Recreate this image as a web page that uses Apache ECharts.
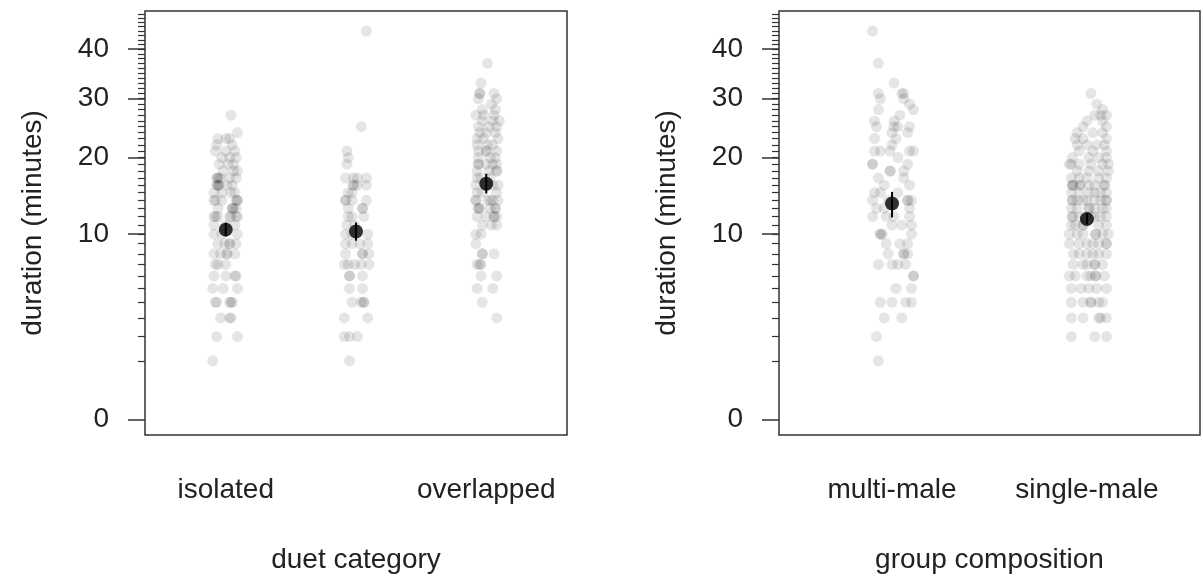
<!DOCTYPE html>
<html>
<head>
<meta charset="utf-8">
<script src="https://cdn.jsdelivr.net/npm/echarts@6/dist/echarts.min.js"></script>
<style>
  html, body { margin: 0; padding: 0; background: #fff; }
  #chart { width: 1203px; height: 579px; }
</style>
</head>
<body>
<div id="chart"></div>
<script>
// durations in minutes; each row is [minutes, jitter offsets from the category centre...]
const isolated = [
  [27, 0.04], [24, 0.09], [23, -0.06, 0.0, 0.03], [22, -0.07, 0.05],
  [21, -0.08, 0.0, 0.07], [20, -0.03, 0.03, 0.08], [19, -0.05, 0.02, 0.06],
  [18, -0.02, 0.06, 0.09], [17, -0.07, -0.06, -0.04, 0.03, 0.08, -0.06],
  [16, -0.07, -0.06, -0.05, 0.01, 0.05, -0.06], [15, -0.09, -0.03, 0.04, 0.07],
  [14, -0.09, -0.08, -0.03, 0.08, 0.09, 0.09], [13, -0.06, 0.05, 0.05, 0.08, 0.06],
  [12, -0.09, -0.08, -0.06, 0.03, 0.04, 0.08, 0.09], [11, -0.09, 0.0, 0.07],
  [10, -0.09, -0.03, 0.09], [9, -0.06, -0.01, 0.03, 0.03, 0.08],
  [8, -0.09, -0.04, 0.01, 0.01, 0.07], [7, -0.08, -0.06, 0.0],
  [6, -0.09, 0.0, 0.07, 0.08], [5, -0.1, -0.02, 0.09],
  [4, -0.08, -0.07, 0.03, 0.04, 0.05], [3, -0.04, 0.03, 0.04],
  [2, -0.07, 0.09], [1, -0.1]
];
const unlabelled = [
  [44, 0.08], [25, 0.04], [21, -0.07], [20, -0.06], [19, -0.07],
  [17, -0.08, -0.02, 0.01, 0.08], [16, -0.02, -0.02, 0.01, 0.08], [15, -0.06, -0.03],
  [14, -0.08, -0.08, -0.03, 0.08], [13, -0.06, 0.05, 0.05], [12, -0.06, -0.03, 0.06],
  [11, -0.07, -0.01], [10, -0.08, -0.03, 0.09], [9, -0.08, -0.03, 0.03, 0.09],
  [8, -0.08, 0.05, 0.05, 0.1], [7, -0.09, -0.06, -0.01, 0.04, 0.1],
  [6, -0.05, -0.05, 0.05], [5, -0.05, 0.05], [4, -0.03, 0.04, 0.06, 0.06],
  [3, -0.09, 0.09], [2, -0.09, -0.05, 0.01], [1, -0.05]
];
const overlapped = [
  [37, 0.01], [33, -0.04], [31, -0.05, -0.05, 0.06], [30, -0.06, 0.08], [29, 0.04],
  [28, -0.03, 0.07], [27, -0.08, -0.02, 0.06], [26, -0.03, 0.05, 0.1], [25, -0.06, 0.02, 0.08],
  [24, -0.05, 0.07, 0.0], [23, -0.02, 0.09, -0.07], [22, -0.07, 0.05, 0.01], [21, 0.0, 0.0, 0.08, -0.06],
  [20, -0.06, 0.03, 0.07], [19, -0.06, -0.06, 0.0, 0.05, 0.08], [18, -0.07, 0.02, 0.08, 0.08],
  [17, -0.04, 0.03, -0.07], [16, -0.08, 0.0, 0.09, 0.05], [15, -0.03, 0.08, -0.07],
  [14, -0.08, -0.08, 0.01, 0.05, 0.09, 0.03], [13, -0.06, -0.06, -0.05, 0.03, 0.07, 0.07],
  [12, -0.07, 0.0, 0.06, 0.06, 0.08], [11, -0.03, 0.04, 0.08], [10, -0.08, -0.04],
  [9, -0.08], [8, -0.03, -0.03, 0.06], [7, -0.07, -0.05, -0.04], [6, -0.04, 0.08],
  [5, -0.07, 0.05], [4, -0.03], [3, 0.08]
];
const multiMale = [
  [44, -0.1], [37, -0.07], [33, 0.01], [31, -0.07, 0.05, 0.06], [30, -0.06, 0.06],
  [29, 0.09], [28, -0.07, 0.11], [27, 0.04], [26, -0.09, 0.01], [25, -0.08, 0.01, 0.03, 0.09],
  [24, 0.0, 0.08], [23, -0.09, 0.02], [22, 0.0], [21, -0.09, -0.06, -0.01, 0.09, 0.11],
  [20, 0.03], [19, -0.1, -0.1, 0.08], [18, -0.01, -0.01, 0.06], [17, -0.07, 0.06],
  [16, -0.04, 0.09], [15, -0.09, -0.06, 0.03], [14, -0.1, -0.02, 0.08, 0.08, 0.1],
  [13, -0.08, -0.04, 0.09], [12, -0.1, -0.03, 0.01, 0.09], [11, 0.0, 0.05, 0.1],
  [10, -0.06, -0.06, -0.05, 0.1], [9, -0.03, 0.04, 0.08], [8, -0.02, 0.06, 0.06, 0.08],
  [7, -0.07, 0.0, 0.03, 0.07], [6, 0.11, 0.11], [5, 0.02, 0.1], [4, -0.06, 0.0, 0.07, 0.1],
  [3, -0.04, 0.05], [2, -0.08], [1, -0.07]
];
const singleMale = [
  [31, 0.02], [29, 0.05], [28, 0.08], [27, 0.04, 0.07, 0.1], [26, 0.0, 0.08], [25, 0.1, -0.02],
  [24, -0.05, 0.03, 0.08], [23, -0.02, 0.1, -0.06], [22, -0.05, 0.05, 0.09, 0.0], [21, -0.04, 0.1, 0.03],
  [20, -0.075, 0.01, 0.06, 0.1], [19, -0.09, -0.04, 0.08, 0.11, 0.02, -0.08], [18, 0.01, 0.11, -0.05, 0.06],
  [17, -0.08, 0.0, 0.06, -0.04, 0.1],
  [16, -0.075, -0.075, -0.035, -0.035, 0.04, 0.09, 0.09, -0.07, 0.01],
  [15, -0.08, 0.01, 0.07, -0.04, 0.1, 0.04],
  [14, -0.075, -0.075, -0.02, 0.04, 0.1, 0.1, -0.05, 0.07, 0.0],
  [13, -0.05, 0.01, 0.01, 0.08, -0.08, 0.1, 0.04],
  [12, -0.075, -0.075, -0.01, 0.04, 0.1, -0.04, 0.07, 0.02],
  [11, -0.08, -0.02, -0.02, 0.06, 0.1, -0.06],
  [10, -0.09, -0.02, 0.045, 0.045, 0.11, -0.05, 0.08],
  [9, -0.09, -0.04, 0.03, 0.1, 0.1, 0.0, 0.06],
  [8, -0.07, 0.0, 0.03, 0.1, -0.04, 0.06], [7, -0.07, 0.0, 0.04, 0.04, 0.08, -0.02],
  [6, -0.06, 0.0, 0.02, 0.045, 0.045, -0.09, 0.09],
  [5, -0.08, 0.01, 0.05, 0.1, -0.03], [4, -0.08, -0.02, 0.02, 0.02, 0.06, 0.08],
  [3, -0.08, -0.02, 0.06, 0.1, 0.07], [2, -0.08, 0.04, 0.1]
];

const duetLabels = ["isolated", "", "overlapped"];
const duetMean = [10.5, 10.3, 16.2];
const duetLow = [9.8, 9.3, 14.9];
const duetHigh = [11.3, 11.3, 17.6];

const groupLabels = ["multi-male", "single-male"];
const groupMean = [13.6, 11.7];
const groupLow = [11.9, 11.1];
const groupHigh = [15.1, 12.4];

const yTicks = [0, 10, 20, 30, 40];
const yMinorTicks = [1, 2, 3, 4, 5, 6, 7, 8, 9, 10, 11, 12, 13, 14, 15, 16, 17, 18, 19, 20,
  21, 22, 23, 24, 25, 26, 27, 28, 29, 30, 31, 32, 33, 34, 35, 36, 37, 38, 39, 40,
  41, 42, 43, 44, 45, 46, 47, 48];
const yLimit = 45;

const FONT = "Liberation Sans, Arial, sans-serif";
const TEXT = "#222";
const LINE = "#333";
const yMin = -0.04 * Math.sqrt(yLimit);
const yMax = 1.04 * Math.sqrt(yLimit);

function points(groups) {
  const out = [];
  groups.forEach((rows, i) => {
    rows.forEach(([minutes, ...offsets]) => {
      offsets.forEach((o) => out.push([i + 1 + o, Math.sqrt(minutes)]));
    });
  });
  return out;
}

function xAxis(gridIndex, n, labels, name) {
  return {
    type: "value",
    gridIndex,
    min: 0.5 - 0.04 * n,
    max: n + 0.5 + 0.04 * n,
    name,
    nameLocation: "middle",
    nameGap: 111,
    nameTextStyle: { color: TEXT, fontSize: 28, fontFamily: FONT },
    axisLine: { show: false },
    axisTick: { show: false },
    splitLine: { show: false },
    axisLabel: {
      customValues: labels.map((_, i) => i + 1),
      formatter: (v) => labels[Math.round(v) - 1],
      margin: 41,
      color: TEXT,
      fontSize: 28,
      fontFamily: FONT,
    },
  };
}

function yAxis(gridIndex) {
  return {
    type: "value",
    gridIndex,
    position: "left",
    min: yMin,
    max: yMax,
    name: "duration (minutes)",
    nameLocation: "middle",
    nameGap: 98,
    nameTextStyle: { color: TEXT, fontSize: 28, fontFamily: FONT },
    axisLine: { show: false },
    splitLine: { show: false },
    axisTick: {
      customValues: yTicks.map(Math.sqrt),
      length: 17,
      lineStyle: { color: LINE, width: 1.5 },
    },
    axisLabel: {
      customValues: yTicks.map(Math.sqrt),
      formatter: (v) => String(Math.round(v * v)),
      margin: 36,
      padding: [6, 0, 0, 0],
      color: TEXT,
      fontSize: 28,
      fontFamily: FONT,
    },
  };
}

function minorAxis(gridIndex) {
  return {
    type: "value",
    gridIndex,
    position: "left",
    min: yMin,
    max: yMax,
    axisLine: { show: false },
    splitLine: { show: false },
    axisLabel: { show: false },
    axisTick: {
      customValues: yMinorTicks.map(Math.sqrt),
      length: 7,
      lineStyle: { color: LINE, width: 1.2 },
    },
  };
}

function pointSeries(xi, yi, groups) {
  return {
    type: "scatter",
    xAxisIndex: xi,
    yAxisIndex: yi,
    symbolSize: 11,
    itemStyle: { color: "rgba(0,0,0,0.13)" },
    data: points(groups),
    silent: true,
  };
}

function errorSeries(xi, yi, low, high) {
  return {
    type: "custom",
    xAxisIndex: xi,
    yAxisIndex: yi,
    data: low.map((l, i) => [i + 1, Math.sqrt(l), Math.sqrt(high[i])]),
    renderItem: (params, api) => {
      const a = api.coord([api.value(0), api.value(1)]);
      const b = api.coord([api.value(0), api.value(2)]);
      return {
        type: "line",
        shape: { x1: a[0], y1: a[1], x2: b[0], y2: b[1] },
        style: { stroke: "#000", lineWidth: 2 },
      };
    },
    z: 3,
  };
}

function meanSeries(xi, yi, means) {
  return {
    type: "scatter",
    xAxisIndex: xi,
    yAxisIndex: yi,
    symbolSize: 14,
    itemStyle: { color: "#000" },
    data: means.map((m, i) => [i + 1, Math.sqrt(m)]),
    z: 4,
  };
}

const chart = echarts.init(document.getElementById("chart"), null, { renderer: "canvas" });
chart.setOption({
  animation: false,
  backgroundColor: "#fff",
  grid: [
    { left: 145, top: 11, width: 422, height: 430, show: true, borderColor: LINE, borderWidth: 1.5, backgroundColor: "transparent" },
    { left: 779, top: 11, width: 421, height: 430, show: true, borderColor: LINE, borderWidth: 1.5, backgroundColor: "transparent" },
  ],
  xAxis: [
    xAxis(0, 3, duetLabels, "duet category"),
    xAxis(1, 2, groupLabels, "group composition"),
  ],
  yAxis: [yAxis(0), minorAxis(0), yAxis(1), minorAxis(1)],
  series: [
    pointSeries(0, 0, [isolated, unlabelled, overlapped]),
    errorSeries(0, 0, duetLow, duetHigh),
    meanSeries(0, 0, duetMean),
    pointSeries(1, 2, [multiMale, singleMale]),
    errorSeries(1, 2, groupLow, groupHigh),
    meanSeries(1, 2, groupMean),
  ],
});
</script>
</body>
</html>
